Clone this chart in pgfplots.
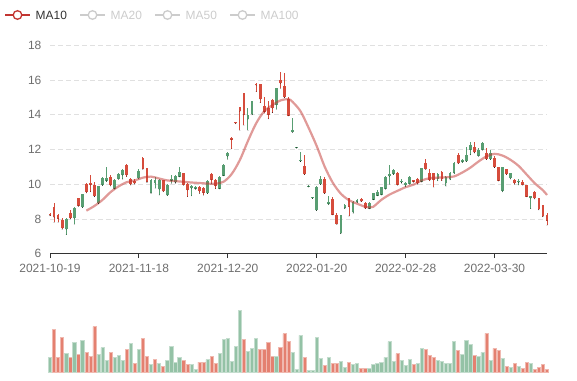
\documentclass[border=0pt]{standalone}
\usepackage{pgfplots}
\pgfplotsset{compat=1.18}
\usepackage{pgfplotstable}
\usepackage{fontspec}
\setmainfont{Liberation Sans}
\definecolor{upc}{RGB}{214,76,60}
\definecolor{dnc}{RGB}{88,158,114}
\definecolor{volup}{RGB}{228,128,112}
\definecolor{voldn}{RGB}{148,194,166}
\definecolor{maline}{RGB}{194,53,49}
\definecolor{axisc}{RGB}{51,51,51}
\definecolor{labc}{RGB}{110,110,110}
\definecolor{gridc}{RGB}{224,224,224}
\definecolor{legoff}{RGB}{204,204,204}

% red candles (close > open): i O H L C
\pgfplotstableread{
i O H L C
0 8.2 8.32 8.18 8.3
1 8.1 8.93 7.8 8.7
2 8.02 8.3 7.8 8.22
3 7.47 8.05 7.4 7.95
5 8.05 8.52 8.0 8.35
7 8.76 9.22 8.72 9.18
9 9.55 10.05 9.5 10.0
10 9.96 10.53 9.57 10.05
11 9.3 10.1 9.28 9.95
15 9.96 10.55 9.9 10.44
19 10.53 11.17 10.44 11.1
20 10.0 10.35 9.95 10.3
21 10.05 10.3 10.0 10.2
23 10.88 11.55 10.85 11.5
24 10.15 10.95 10.1 10.92
28 9.6 10.27 9.57 10.25
33 9.96 10.67 9.94 10.65
34 9.67 10.06 9.29 10.02
37 9.6 9.9 9.48 9.85
38 9.5 9.83 9.38 9.8
40 10.25 10.65 10.05 10.57
41 9.9 10.28 9.75 10.25
45 12.57 12.7 12.04 12.67
46 13.5 13.58 13.48 13.56
47 14.2 14.45 13.1 14.42
48 14.0 15.28 13.4 15.25
51 15.7 15.82 15.33 15.8
52 14.9 15.8 14.7 15.77
53 14.18 15.05 14.09 14.5
54 14.0 14.82 13.77 14.38
55 14.38 14.9 14.13 14.86
57 15.81 16.44 15.52 16.0
58 15.0 16.42 14.98 15.66
59 13.94 15.0 13.94 14.9
63 10.57 11.68 10.55 11.05
68 9.48 10.4 9.46 10.3
70 8.25 9.25 8.23 9.17
71 7.7 8.32 7.69 8.22
74 8.71 9.2 8.17 9.19
77 9.02 9.2 9.0 9.17
78 8.62 8.96 8.6 8.92
86 9.96 10.7 9.95 10.67
90 10.15 10.27 10.1 10.25
91 10.06 10.35 10.0 10.3
93 10.87 11.44 10.85 11.25
94 10.25 10.87 10.2 10.63
95 10.25 10.67 9.83 10.63
97 10.29 10.79 10.21 10.73
101 11.21 11.79 11.18 11.69
105 11.83 12.46 11.8 12.17
108 11.44 12.08 11.42 11.79
110 10.98 11.6 10.96 11.5
111 10.19 11.02 10.19 10.98
113 10.58 10.9 10.55 10.87
115 10.06 10.3 10.0 10.25
117 9.96 10.25 9.95 10.15
118 9.29 9.98 9.27 9.96
120 9.19 9.6 9.15 9.58
121 8.55 9.23 8.52 9.2
122 8.15 8.83 8.13 8.81
123 7.9 8.33 7.65 8.23
}\upcandles

% green candles (close < open): i O H L C
\pgfplotstableread{
i O H L C
4 7.98 8.05 7.1 7.4
6 8.65 8.68 7.7 8.05
8 9.42 9.45 8.65 8.68
12 9.9 9.92 8.88 8.9
13 10.38 10.4 9.92 9.96
14 10.38 11.0 10.15 10.21
16 10.25 10.3 9.72 9.75
17 10.57 10.65 10.28 10.3
18 10.82 10.85 10.3 10.53
22 10.79 10.85 10.3 10.35
25 10.25 10.3 9.48 9.5
26 10.25 10.44 9.77 10.06
27 10.25 10.29 9.38 9.71
29 9.96 10.0 9.35 9.38
30 10.3 10.54 10.05 10.2
31 10.5 10.54 10.05 10.1
32 10.73 11.0 10.42 10.44
35 9.9 9.96 9.33 9.77
36 9.85 9.9 9.71 9.75
39 10.2 10.23 9.46 9.48
42 10.42 10.45 9.73 9.75
43 11.12 11.15 10.48 10.5
44 11.8 11.87 11.43 11.6
49 14.0 14.38 13.1 13.75
50 14.8 14.82 14.0 14.04
56 15.52 15.55 14.32 14.57
60 13.1 13.81 12.98 13.0
61 12.15 12.17 12.08 12.1
62 11.38 11.85 11.3 11.31
64 9.9 9.93 9.84 9.86
65 9.25 9.28 9.17 9.2
66 9.83 9.88 8.48 8.5
67 10.28 10.47 9.98 10.0
69 8.97 9.33 8.82 8.88
72 8.23 8.25 7.15 7.17
73 8.8 8.85 8.6 8.65
75 9.0 9.05 8.33 8.4
76 9.12 9.17 8.94 9.0
79 8.94 8.96 8.58 8.6
80 9.48 9.5 9.1 9.12
81 9.55 9.65 9.33 9.35
82 9.83 9.85 9.38 9.4
83 10.44 10.48 9.71 9.75
84 10.6 11.1 10.0 10.45
85 10.8 10.85 10.55 10.6
87 10.2 10.29 10.06 10.1
88 10.05 10.1 9.85 9.95
89 10.44 10.5 10.0 10.02
92 10.92 10.95 10.13 10.15
96 10.6 10.65 10.2 10.3
98 10.44 10.45 9.9 10.06
99 10.63 10.7 10.25 10.29
100 11.25 11.3 10.6 10.67
102 11.4 11.45 11.25 11.3
103 11.69 12.13 11.3 11.31
104 12.27 12.46 11.7 11.98
106 11.98 12.08 11.6 11.63
107 12.37 12.46 11.96 11.98
109 11.79 11.98 11.42 11.44
112 10.98 11.02 9.56 9.62
114 10.63 10.65 10.3 10.35
116 10.2 10.3 9.96 10.1
119 9.33 9.35 8.6 9.2
}\dncandles

% MA10
\pgfplotstableread{
i ma
9 8.48
11 8.75
13 9.1
15 9.55
17 9.88
19 10.12
21 10.22
23 10.38
25 10.44
27 10.33
29 10.22
31 10.18
33 10.14
35 10.1
37 10.07
39 10.04
41 10.03
43 10.15
45 10.6
47 11.4
49 12.5
51 13.5
53 14.2
55 14.55
57 14.82
59 14.9
60 14.75
62 14.2
64 13.25
66 12.2
68 11.0
70 10.08
72 9.45
74 9.08
76 8.88
78 8.7
79 8.66
80 8.7
82 9.1
84 9.4
86 9.62
88 9.83
90 9.98
92 10.22
94 10.35
96 10.38
98 10.4
100 10.45
102 10.67
104 10.95
106 11.3
108 11.6
110 11.75
112 11.65
114 11.4
116 11.05
118 10.55
120 10.05
122 9.65
123 9.38
}\matable

% volume (red bars)
\pgfplotstableread{
i v
1 43.0
2 14.7
3 34.7
5 15.0
7 17.7
9 19.7
10 16.3
11 45.7
15 20.0
19 22.7
21 9.3
23 34.0
24 16.0
26 13.0
28 6.0
33 12.0
34 8.3
37 10.3
38 10.3
40 16.0
41 9.0
48 33.0
52 22.7
53 23.0
54 30.0
55 16.0
57 25.3
58 38.7
59 31.0
63 15.3
68 7.3
70 9.0
71 9.0
74 10.0
77 4.0
78 4.3
86 18.7
90 8.0
93 23.0
94 17.0
95 14.7
101 22.0
105 17.0
108 39.0
110 24.0
111 22.3
113 6.0
115 8.7
117 3.7
118 9.7
120 3.0
121 4.7
122 8.3
123 2.7
}\volred

% volume (green bars)
\pgfplotstableread{
i v
0 15.0
4 18.7
6 30.3
8 32.0
12 17.7
13 24.7
14 12.3
16 14.7
17 16.7
18 12.3
20 28.7
22 23.3
25 7.7
27 9.0
29 11.7
30 26.0
31 10.0
32 15.3
35 8.0
36 3.3
39 12.7
42 19.0
43 33.3
44 34.3
45 11.0
46 26.0
47 62.0
49 21.0
50 23.7
51 33.7
56 16.0
60 20.0
61 3.3
62 37.0
64 2.0
65 2.0
66 35.3
67 14.3
69 14.7
72 11.0
73 5.0
75 8.0
76 8.7
79 4.0
80 8.3
81 8.7
82 10.0
83 15.0
84 30.7
85 10.7
87 12.0
88 6.7
89 13.3
91 8.7
92 24.0
96 11.7
97 11.3
98 9.3
99 9.3
100 31.0
102 18.0
103 31.7
104 27.7
106 16.0
107 20.0
109 11.7
112 14.0
114 5.3
116 6.0
119 8.7
}\volgreen

\begin{document}
\begin{tikzpicture}[x=1bp,y=1bp]
\useasboundingbox (0,0) rectangle (577,380);

\begin{axis}[
  at={(50bp,126.3bp)}, anchor=south west, scale only axis,
  width=497bp, height=208.4bp,
  xmin=0, xmax=123, ymin=6, ymax=18,
  clip=false,
  separate axis lines,
  axis x line*=bottom, axis y line*=left,
  y axis line style={draw=none},
  x axis line style={axisc, line width=0.8bp, -},
  xtick={0,22,44,66,88,110},
  xticklabels={2021-10-19,2021-11-18,2021-12-20,2022-01-20,2022-02-28,2022-03-30},
  ytick={6,8,10,12,14,16,18},
  ymajorgrids,
  major grid style={gridc, line width=0.8bp, dash pattern=on 5bp off 3bp},
  tick align=outside,
  major tick length=4.5bp,
  xtick style={axisc, line width=0.8bp},
  ytick style={draw=none},
  ticklabel style={font=\fontsize{12}{14}\selectfont, text=labc},
  xticklabel style={anchor=north, inner sep=0pt, yshift=-6bp},
  yticklabel style={anchor=east, inner sep=0pt, xshift=-4bp},
  /pgf/number format/assume math mode=true,
  candle/.style={only marks, mark=*, mark options={draw=none, fill=none, scale=0.01}, forget plot},
]
% wicks
\addplot[candle,
  error bars/.cd, y dir=plus, y explicit, error mark=none,
  error bar style={draw=upc, line width=1bp}]
  table[x=i, y=L, y error expr=\thisrow{H}-\thisrow{L}] {\upcandles};
\addplot[candle,
  error bars/.cd, y dir=plus, y explicit, error mark=none,
  error bar style={draw=dnc, line width=1bp}]
  table[x=i, y=L, y error expr=\thisrow{H}-\thisrow{L}] {\dncandles};
% bodies
\addplot[candle,
  error bars/.cd, y dir=plus, y explicit, error mark=none,
  error bar style={draw=upc, line width=2.8bp}]
  table[x=i, y=O, y error expr=\thisrow{C}-\thisrow{O}] {\upcandles};
\addplot[candle,
  error bars/.cd, y dir=plus, y explicit, error mark=none,
  error bar style={draw=dnc, line width=2.8bp}]
  table[x=i, y=C, y error expr=\thisrow{O}-\thisrow{C}] {\dncandles};
% MA10
\addplot[smooth, draw=maline, draw opacity=0.5, line width=2.2bp, mark=none]
  table[x=i, y=ma] {\matable};
\end{axis}

\begin{axis}[
  at={(50bp,7.7bp)}, anchor=south west, scale only axis,
  width=497bp, height=70.3bp,
  xmin=0, xmax=123, ymin=0, ymax=70.3,
  clip=false,
  separate axis lines,
  axis x line*=bottom, axis y line*=left,
  y axis line style={draw=none},
  x axis line style={axisc, line width=0.8bp, -},
  xtick=\empty, ytick=\empty,
]
\addplot[ybar, bar width=3.2bp, bar shift=0pt, fill=volup, draw=volup!55!white, line width=0.5bp]
  table[x=i, y=v] {\volred};
\addplot[ybar, bar width=3.2bp, bar shift=0pt, fill=voldn, draw=voldn!55!white, line width=0.5bp]
  table[x=i, y=v] {\volgreen};
\end{axis}

% legend
\draw[maline, line width=1.3bp] (5,365) -- (30,365);
\draw[maline, fill=white, line width=1.3bp] (17.5,365) circle (4.3);
\node[anchor=west, inner sep=0pt, text=axisc, font=\fontsize{12}{14}\selectfont] at (35.5,365) {MA10};
\draw[legoff, line width=1.3bp] (80,365) -- (105,365);
\draw[legoff, fill=white, line width=1.3bp] (92.5,365) circle (4.3);
\node[anchor=west, inner sep=0pt, text=legoff, font=\fontsize{12}{14}\selectfont] at (110.5,365) {MA20};
\draw[legoff, line width=1.3bp] (155,365) -- (180,365);
\draw[legoff, fill=white, line width=1.3bp] (167.5,365) circle (4.3);
\node[anchor=west, inner sep=0pt, text=legoff, font=\fontsize{12}{14}\selectfont] at (185.5,365) {MA50};
\draw[legoff, line width=1.3bp] (230,365) -- (255,365);
\draw[legoff, fill=white, line width=1.3bp] (242.5,365) circle (4.3);
\node[anchor=west, inner sep=0pt, text=legoff, font=\fontsize{12}{14}\selectfont] at (260.5,365) {MA100};
\end{tikzpicture}
\end{document}
